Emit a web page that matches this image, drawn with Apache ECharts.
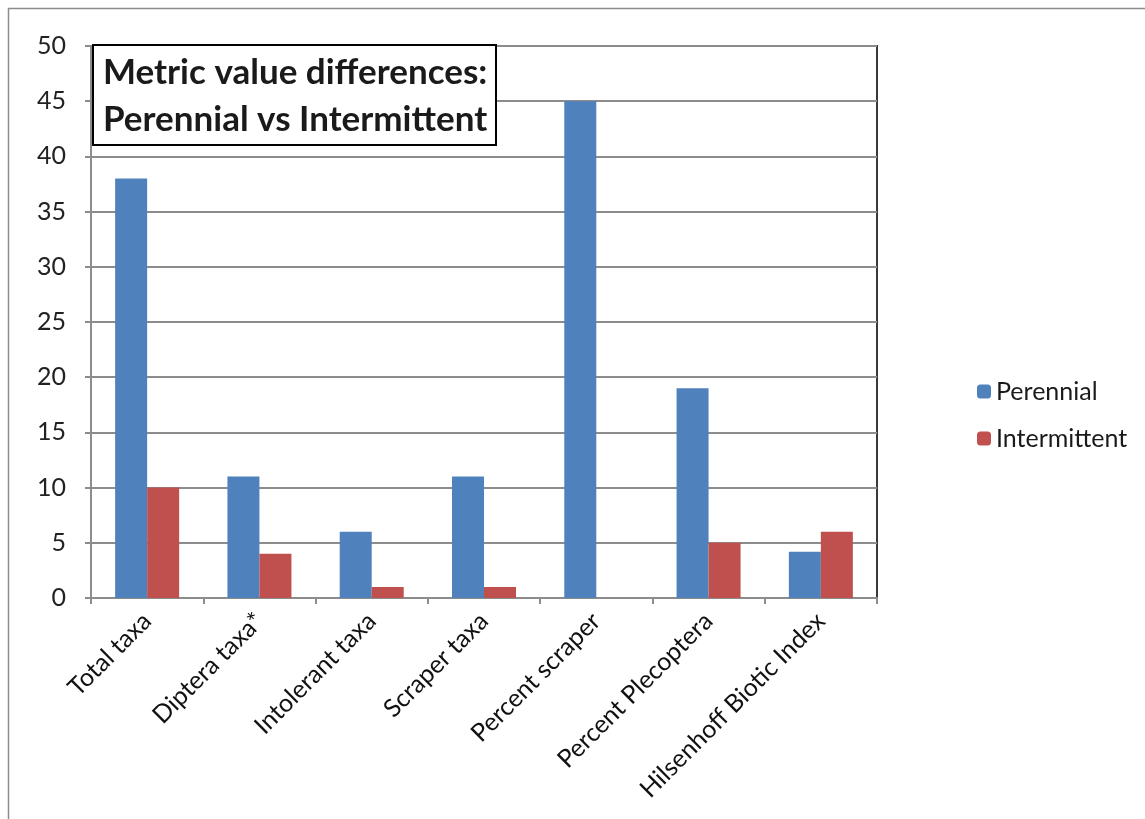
<!DOCTYPE html>
<html><head><meta charset="utf-8">
<script src="https://cdn.jsdelivr.net/npm/echarts@6/dist/echarts.min.js"></script>
<style>html,body{margin:0;padding:0;background:#fff}#c{width:1145px;height:819px}</style>
</head><body><div id="c"></div>
<script>
var categories = ['Total taxa','Diptera taxa*','Intolerant taxa','Scraper taxa','Percent scraper','Percent Plecoptera','Hilsenhoff Biotic Index'];
var perennial = [38, 11, 6, 11, 45, 19, 4.2];
var intermittent = [10, 4, 1, 1, 0, 5, 6];
var titleLines = ['Metric value differences:', 'Perennial vs Intermittent'];
var seriesNames = ['Perennial', 'Intermittent'];

var FONT = 'Lato, "Open Sans", sans-serif';
var chart = echarts.init(document.getElementById('c'), null, {renderer:'canvas'});
chart.setOption({
  animation:false,
  backgroundColor:'#fff',
  graphic:[{type:'rect', shape:{x:8.5,y:8.5,width:1200,height:900}, style:{fill:'none', stroke:'#8c8c8c', lineWidth:1.5}, silent:true, z:-1}],
  title:{
    text: titleLines.join('\n'),
    left:93, top:45,
    padding:[4,9,2,10],
    backgroundColor:'#fff',
    borderColor:'#000', borderWidth:2,
    textStyle:{fontFamily:FONT, fontSize:35, fontWeight:'bold', color:'#1a1a1a', lineHeight:47}
  },
  legend:{
    orient:'vertical', left:972, top:374,
    itemWidth:14, itemHeight:14, itemGap:22,
    textStyle:{fontFamily:FONT, fontSize:25, color:'#1a1a1a', padding:[0,0,0,0]},
    data: seriesNames
  },
  grid:{left:91, right:268, top:46, bottom:221, show:true, borderColor:'#3a3a3a', borderWidth:2, containLabel:false},
  xAxis:{
    type:'category', data:categories,
    axisLine:{lineStyle:{color:'#8c8c8c', width:2}},
    axisTick:{show:true, length:6, lineStyle:{color:'#8c8c8c', width:2}, alignWithLabel:false},
    axisLabel:{rotate:45, interval:0, margin:19, fontFamily:FONT, fontSize:25, color:'#111'}
  },
  yAxis:{
    type:'value', min:0, max:50, interval:5,
    axisLine:{show:true, lineStyle:{color:'#8c8c8c', width:2}},
    axisTick:{show:true, length:6, lineStyle:{color:'#8c8c8c', width:2}},
    splitLine:{lineStyle:{color:'#8c8c8c', width:2}},
    axisLabel:{margin:25, fontFamily:FONT, fontSize:25, color:'#222'}
  },
  series:[
    {name:seriesNames[0], type:'bar', data:perennial, barGap:'0%', barCategoryGap:'43%', itemStyle:{color:'#4F81BD'}},
    {name:seriesNames[1], type:'bar', data:intermittent, itemStyle:{color:'#C0504D'}}
  ]
});
</script></body></html>
